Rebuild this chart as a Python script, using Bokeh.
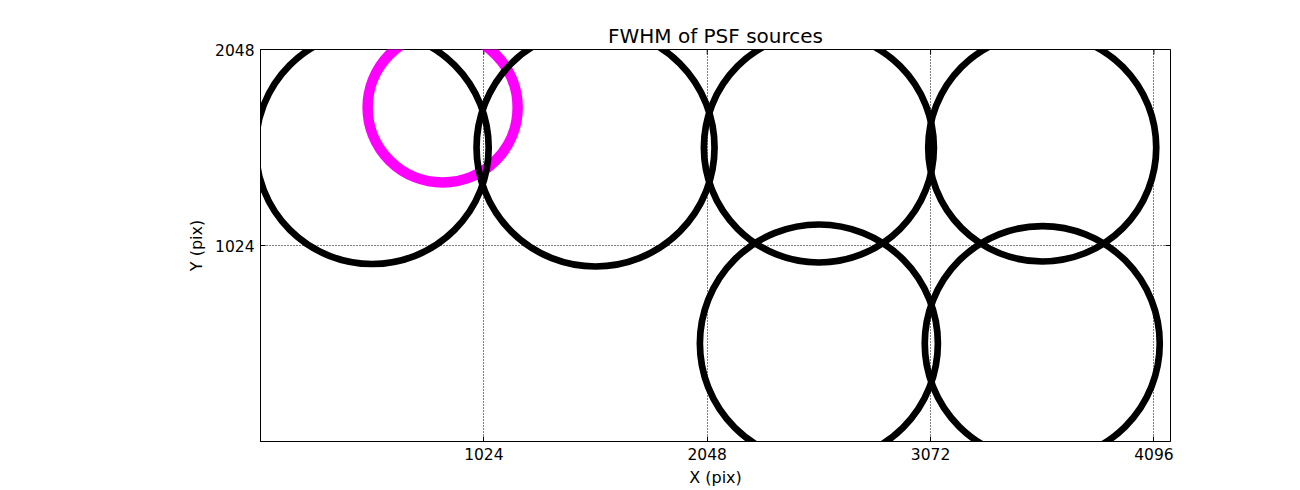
import math
from bokeh.plotting import figure
from bokeh.models import Range1d, FixedTicker, LinearAxis, ColumnDataSource, Grid
from bokeh.embed import file_html
from bokeh.resources import INLINE

# ---- data ----
title_text = "FWHM of PSF sources"
x_label = "X (pix)"
y_label = "Y (pix)"
x_ticks = [1024, 2048, 3072, 4096]
y_ticks = [1024, 2048]
x_max = 4172
y_max = 2048

src_x = [512, 1536, 2560, 3584, 2560, 3584]
src_y = [1536, 1536, 1536, 1536, 512, 512]
src_fwhm = [233, 238, 230, 228, 238, 235]

hl_x = [835]
hl_y = [1745]
hl_fwhm = [150]

FONT = "DejaVu Sans"

p = figure(width=1300, height=490, output_backend="svg", toolbar_location=None,
           x_range=Range1d(0, x_max), y_range=Range1d(0, y_max),
           min_border_left=260, min_border_right=130,
           min_border_top=49, min_border_bottom=49,
           x_axis_type=None, y_axis_type=None)

p.title.text = title_text
p.title.text_font = FONT
p.title.text_font_size = "20px"
p.title.text_font_style = "normal"
p.title.align = "center"
p.title.text_color = "black"
p.title.standoff = 3

p.outline_line_color = "black"
p.outline_line_width = 1
p.background_fill_color = "white"
p.border_fill_color = "white"


def make_axis(ticks, label):
    ax = LinearAxis(ticker=FixedTicker(ticks=ticks))
    ax.axis_line_color = "black"
    ax.major_tick_line_color = "black"
    ax.major_tick_in = 5
    ax.major_tick_out = 0
    ax.minor_tick_line_color = None
    ax.major_label_text_font = FONT
    ax.major_label_text_color = "black"
    ax.major_label_text_font_size = "15.5px"
    ax.axis_label = label
    ax.axis_label_text_font = FONT
    ax.axis_label_text_font_size = "16px"
    ax.axis_label_text_font_style = "normal"
    ax.axis_label_text_color = "black"
    return ax


bottom = make_axis(x_ticks, x_label)
bottom.major_label_standoff = 6
bottom.axis_label_standoff = 5
left = make_axis(y_ticks, y_label)
left.major_label_standoff = 6
left.axis_label_standoff = 6
p.add_layout(bottom, "below")
p.add_layout(left, "left")

xgrid = Grid(dimension=0, ticker=FixedTicker(ticks=x_ticks))
ygrid = Grid(dimension=1, ticker=FixedTicker(ticks=y_ticks))
for g in (xgrid, ygrid):
    g.grid_line_color = "black"
    g.grid_line_width = 1
    g.grid_line_dash = "1 2"
    p.add_layout(g)

# inward ticks on top and right frame edges (half of each dash is clipped by the frame)
top_src = ColumnDataSource(dict(x=x_ticks, y=[y_max] * len(x_ticks)))
right_src = ColumnDataSource(dict(x=[x_max] * len(y_ticks), y=y_ticks))
p.scatter(x="x", y="y", source=top_src, marker="dash", size=10, angle=math.pi / 2,
          line_color="black", line_width=1)
p.scatter(x="x", y="y", source=right_src, marker="dash", size=10, angle=0,
          line_color="black", line_width=1)

hl_src = ColumnDataSource(dict(x=hl_x, y=hl_y, s=hl_fwhm))
src = ColumnDataSource(dict(x=src_x, y=src_y, s=src_fwhm))

p.scatter(x="x", y="y", size="s", source=hl_src, marker="circle",
          fill_color=None, line_color="#ff00ff", line_width=10.5)
p.scatter(x="x", y="y", size="s", source=src, marker="circle",
          fill_color=None, line_color="black", line_width=6.7)

open("out.html", "w").write(file_html(p, INLINE))
